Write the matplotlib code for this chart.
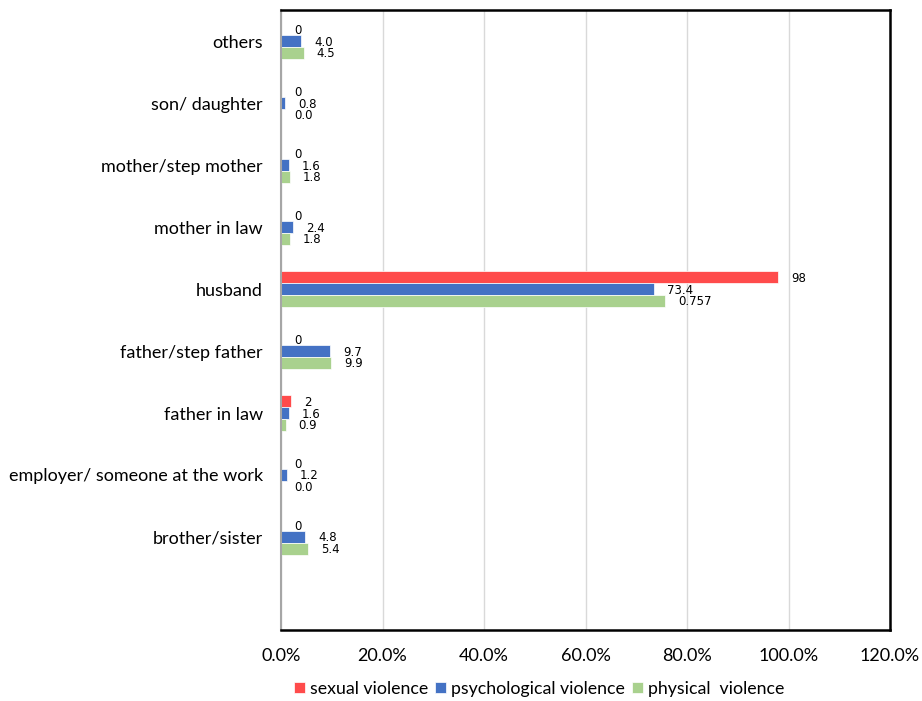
import numpy as np
import matplotlib.pyplot as plt

plt.rcParams['font.family'] = ['Lato', 'DejaVu Sans']

categories = ['', 'brother/sister', 'employer/ someone at the work', 'father in law',
              'father/step father', 'husband', 'mother in law', 'mother/step mother',
              'son/ daughter', 'others']
sexual = [np.nan, 0, 0, 2, 0, 98, 0, 0, 0, 0]
psych = [np.nan, 4.8, 1.2, 1.6, 9.7, 73.4, 2.4, 1.6, 0.8, 4.0]
physical = [np.nan, 5.4, 0.0, 0.9, 9.9, 75.7, 1.8, 1.8, 0.0, 4.5]
sexual_lbl = ['', '0', '0', '2', '0', '98', '0', '0', '0', '0']
psych_lbl = ['', '4.8', '1.2', '1.6', '9.7', '73.4', '2.4', '1.6', '0.8', '4.0']
physical_lbl = ['', '5.4', '0.0', '0.9', '9.9', '0.757', '1.8', '1.8', '0.0', '4.5']
xticks = [0, 20, 40, 60, 80, 100, 120]

fig = plt.figure(figsize=(9.22, 7.01), dpi=100)
ax = fig.add_axes([0.3048, 0.1013, 0.6605, 0.8844])

y = np.arange(len(categories))
h = 0.19
series = [
    (sexual, sexual_lbl, '#FF4B4B', 'sexual violence', h),
    (psych, psych_lbl, '#4472C4', 'psychological violence', 0),
    (physical, physical_lbl, '#A9D18E', 'physical  violence', -h),
]
for vals, lbls, col, name, off in series:
    ax.barh(y + off, vals, height=h, color=col, edgecolor='white', linewidth=0.5, label=name)
    for yi, v, t in zip(y, vals, lbls):
        if t == '':
            continue
        ax.annotate(t, (v, yi + off), xytext=(13, -1), textcoords='offset pixels',
                    ha='left', va='center', fontsize=8.5, fontfamily='DejaVu Sans')

ax.set_xlim(0, 120)
ax.set_ylim(-0.5, len(categories) - 0.5)
ax.set_xticks(xticks)
ax.set_xticklabels([f'{v:.1f}%' for v in xticks])
ax.set_yticks(y)
ax.set_yticklabels(categories)
ax.tick_params(axis='both', length=0, labelsize=13)
ax.tick_params(axis='x', pad=13)
ax.tick_params(axis='y', pad=13)
ax.grid(axis='x', color='#D9D9D9', linewidth=1)
ax.set_axisbelow(True)
for s in ['top', 'right', 'bottom']:
    ax.spines[s].set_color('black')
    ax.spines[s].set_linewidth(1.8)
ax.spines['left'].set_color('#A6A6A6')
ax.spines['left'].set_linewidth(1.5)

fig.legend(loc='center', bbox_to_anchor=(0.585, 0.017), ncol=3, frameon=False,
           fontsize=12.8, handlelength=0.6, handleheight=0.6, handletextpad=0.3,
           columnspacing=0.4)

fig.savefig('out.png', dpi=100)
